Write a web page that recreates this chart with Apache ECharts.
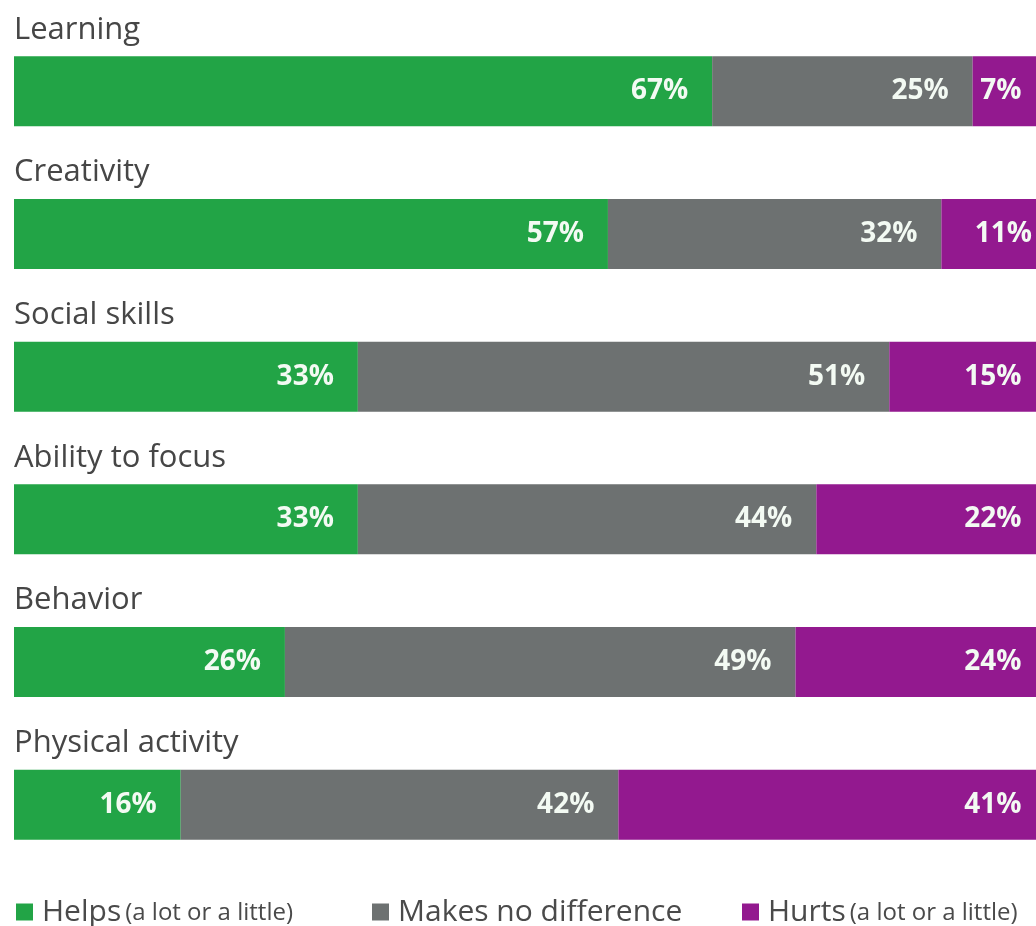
<!DOCTYPE html>
<html>
<head>
<meta charset="utf-8">
<script src="https://cdn.jsdelivr.net/npm/echarts@6/dist/echarts.min.js"></script>
<style>
  html, body { margin: 0; padding: 0; background: #ffffff; }
  #chart { width: 1036px; height: 926px; }
</style>
</head>
<body>
<div id="chart"></div>
<script>
// Survey categories, top to bottom
const categories = ['Learning', 'Creativity', 'Social skills', 'Ability to focus', 'Behavior', 'Physical activity'];
// Share of respondents (%) per answer
const helps = [67, 57, 33, 33, 26, 16];
const noDifference = [25, 32, 51, 44, 49, 42];
const hurts = [7, 11, 15, 22, 24, 41];

const seriesNames = ['Helps', 'Makes no difference', 'Hurts'];
const colors = ['#22a446', '#6d7171', '#93198f'];

const chart = echarts.init(document.getElementById('chart'));

const labelStyle = {
  show: true,
  position: 'insideRight',
  distance: 24,
  color: '#f3faf3',
  fontFamily: 'Open Sans',
  fontWeight: 'bold',
  fontSize: 28,
  formatter: p => p.value + '%'
};

function barSeries(name, data, color) {
  return {
    name: name,
    type: 'bar',
    stack: 'total',
    data: data,
    barWidth: 70,
    clip: false,
    itemStyle: { color: color },
    label: labelStyle,
    emphasis: { disabled: true },
    animation: false
  };
}

function legendFor(name, left, note) {
  return {
    data: [name],
    left: left,
    top: 897,
    padding: 0,
    icon: 'rect',
    itemWidth: 17,
    itemHeight: 17,
    selectedMode: false,
    textStyle: {
      padding: [0, 0, 0, 4],
      rich: {
        a: { fontFamily: 'Open Sans', fontSize: 30, color: '#4a4a4a' },
        b: { fontFamily: 'Open Sans', fontSize: 24, color: '#4a4a4a', padding: [2, 0, 0, 4] }
      }
    },
    formatter: n => note ? '{a|' + n + '}{b|' + note + '}' : '{a|' + n + '}'
  };
}

chart.setOption({
  backgroundColor: '#ffffff',
  animation: false,
  // the bars run a little past the right edge of the page
  grid: { left: 14, right: -20, top: 20, bottom: 50, outerBoundsMode: 'none', containLabel: false },
  xAxis: {
    type: 'value',
    min: 0,
    max: 100,
    show: false
  },
  yAxis: {
    type: 'category',
    data: categories,
    inverse: true,
    axisLine: { show: false },
    axisTick: { show: false },
    axisLabel: {
      inside: true,
      margin: 0,
      align: 'left',
      formatter: v => '{t|' + v + '}\n{s|}',
      rich: {
        t: { fontFamily: 'Open Sans', fontSize: 31, lineHeight: 36, color: '#464646' },
        s: { fontSize: 1, lineHeight: 123 }
      }
    },
    z: 5
  },
  legend: [
    legendFor(seriesNames[0], 16, '(a lot or a little)'),
    legendFor(seriesNames[1], 372, ''),
    legendFor(seriesNames[2], 742, '(a lot or a little)')
  ],
  series: [
    barSeries(seriesNames[0], helps, colors[0]),
    barSeries(seriesNames[1], noDifference, colors[1]),
    barSeries(seriesNames[2], hurts, colors[2])
  ]
});
</script>
</body>
</html>
